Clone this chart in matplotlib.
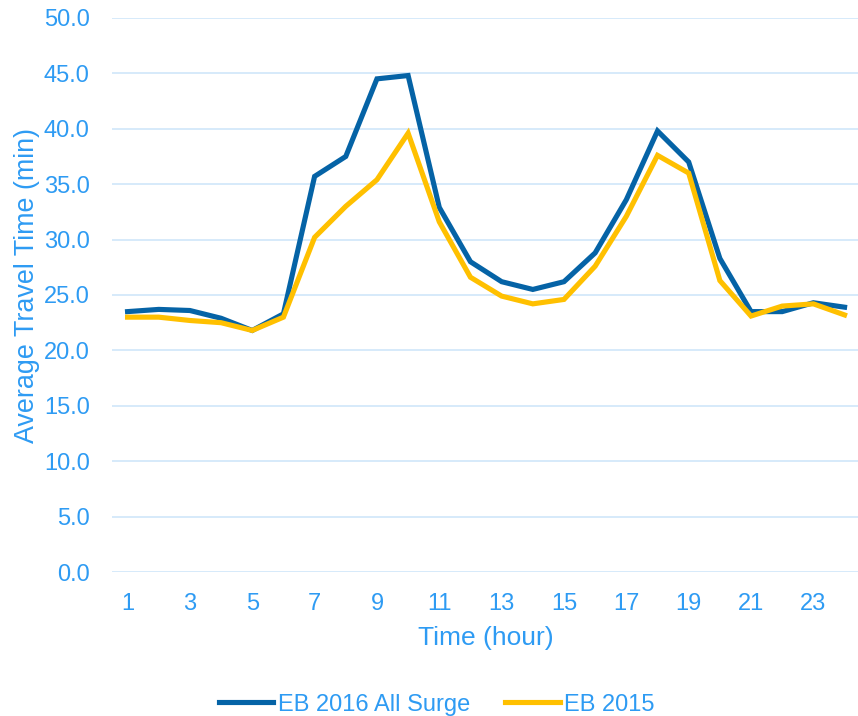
import numpy as np
import matplotlib.pyplot as plt

plt.rcParams['font.family'] = ['Liberation Sans', 'DejaVu Sans']

hours = list(range(1, 25))
eb_2016 = [23.5, 23.7, 23.6, 22.9, 21.8, 23.3, 35.7, 37.5, 44.5, 44.8, 32.9, 28.0,
           26.2, 25.5, 26.2, 28.8, 33.6, 39.8, 37.0, 28.3, 23.5, 23.5, 24.3, 23.9]
eb_2015 = [23.0, 23.0, 22.7, 22.5, 21.8, 23.0, 30.2, 33.0, 35.4, 39.6, 31.6, 26.6,
           24.9, 24.2, 24.6, 27.6, 32.1, 37.6, 36.0, 26.3, 23.1, 24.0, 24.2, 23.2]

txt = '#2e9bf3'

fig = plt.figure(figsize=(8.58, 7.16), dpi=100)
ax = fig.add_axes([0.1305, 0.201, 0.872, 0.774])

ax.plot(hours, eb_2016, color='#0563a6', lw=3.7, label='EB 2016 All Surge', solid_joinstyle='miter')
ax.plot(hours, eb_2015, color='#ffc000', lw=3.7, label='EB 2015', solid_joinstyle='miter')

ax.set_xlim(0.5, 24.5)
ax.set_ylim(0, 50)
yt = np.arange(0, 50.1, 5)
ax.set_yticks(yt)
ax.set_yticklabels([f'{v:.1f}' for v in yt])
ax.set_xticks(range(1, 25, 2))
ax.tick_params(length=0, labelsize=17, labelcolor=txt)
ax.tick_params(axis='x', pad=15)
ax.tick_params(axis='y', pad=16)
ax.grid(axis='y', color='#d3e8fa', lw=1.3)
ax.set_axisbelow(True)
for s in ax.spines.values():
    s.set_visible(False)

ax.set_xlabel('Time (hour)', fontsize=19, color=txt, labelpad=8)
ax.set_ylabel('Average Travel Time (min)', fontsize=19.4, color=txt, labelpad=3)
ax.yaxis.label.set_y(0.517)

fig.legend(loc='center', bbox_to_anchor=(0.509, 0.016), ncol=2, frameon=False,
           fontsize=17, labelcolor=txt, handlelength=2.3, handletextpad=0.2, columnspacing=1.5)

fig.savefig('out.png', dpi=100)
